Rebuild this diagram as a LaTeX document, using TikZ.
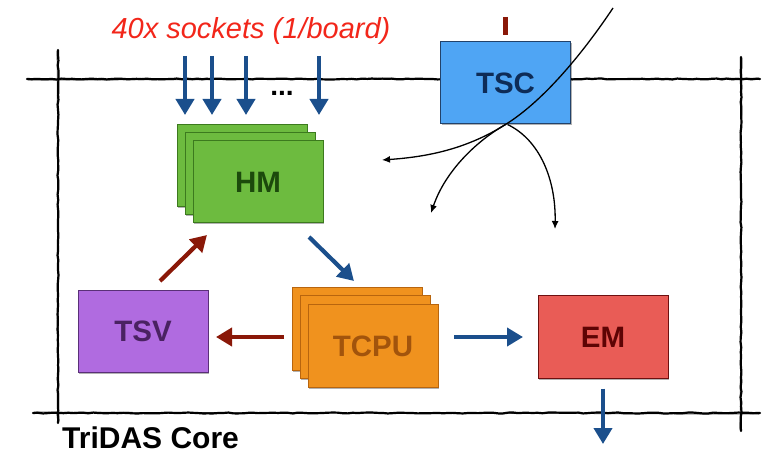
\documentclass[tikz,border=0pt]{standalone}
\usepackage{fontspec}
\setmainfont{Liberation Sans}
\usetikzlibrary{arrows.meta,shadows,decorations.pathmorphing}

\definecolor{flowblue}{HTML}{1B4F8C}
\definecolor{flowred}{HTML}{8A1808}
\definecolor{hmfill}{HTML}{6DBB3F}
\definecolor{hmdraw}{HTML}{3C7A1E}
\definecolor{hmtext}{HTML}{1C4A0C}
\definecolor{tscfill}{HTML}{4FA5F4}
\definecolor{tscdraw}{HTML}{22426A}
\definecolor{tsctext}{HTML}{0E2C57}
\definecolor{tsvfill}{HTML}{B06BE0}
\definecolor{tsvdraw}{HTML}{5A3078}
\definecolor{tsvtext}{HTML}{4A2262}
\definecolor{cpufill}{HTML}{F0921E}
\definecolor{cpudraw}{HTML}{B8650E}
\definecolor{cputext}{HTML}{A2540C}
\definecolor{emfill}{HTML}{E95C56}
\definecolor{emdraw}{HTML}{6E1010}
\definecolor{emtext}{HTML}{5E0404}
\definecolor{labelred}{HTML}{F2261A}

\begin{document}
\begin{tikzpicture}[x=1pt,y=-1pt,
  box/.style={rectangle, minimum width=130pt, minimum height=82pt, inner sep=0pt,
    line width=1pt, font=\fontsize{29.5}{32}\selectfont\bfseries,
    drop shadow={shadow xshift=1.2pt, shadow yshift=-1.5pt, opacity=.3, fill=black}},
  sketch/.style={line width=2.2pt, line cap=round,
    decorate, decoration={random steps, segment length=5pt, amplitude=.5pt}},
  fat/.style={line width=4.2pt, -{Triangle[width=18pt,length=16pt]}},
  thin/.style={line width=1.3pt, -{Latex[length=8pt,width=7pt]}},
]
\useasboundingbox (0,0) rectangle (763,454);

% frame of the core, hand-drawn look
\draw[sketch] (27,79) -- (760,79);
\draw[sketch] (33,413) -- (760,413);
\draw[sketch] (58,50) -- (58,423);
\draw[sketch] (741,57) -- (741,431);
\draw[line width=.6pt, opacity=.7] (28,80.2) -- (759,78.2);
\draw[line width=.6pt, opacity=.7] (34,412) -- (759,414.2);
\draw[line width=.6pt, opacity=.7] (57,51) -- (59,422);
\draw[line width=.6pt, opacity=.7] (742,58) -- (740,430);

% HM stack
\node[box, fill=hmfill, draw=hmdraw] (hm3) at (242,165.5) {};
\node[box, fill=hmfill, draw=hmdraw] (hm2) at (250,173.5) {};
\node[box, fill=hmfill, draw=hmdraw, text=hmtext] (hm) at (258,182) {HM};

% TCPU stack
\node[box, fill=cpufill, draw=cpudraw] (cpu3) at (357,329) {};
\node[box, fill=cpufill, draw=cpudraw] (cpu2) at (365,337) {};
\node[box, fill=cpufill, draw=cpudraw, text=cputext] (cpu) at (373,346) {TCPU};

% single units
\node[box, fill=tsvfill, draw=tsvdraw, text=tsvtext] (tsv) at (143,331.5) {TSV};
\node[box, fill=emfill, draw=emdraw, text=emtext] (em) at (603,337) {EM};
\node[box, fill=tscfill, draw=tscdraw, text=tsctext] (tsc) at (505.5,83) {TSC};

% label and socket inputs
\node[text=labelred, font=\fontsize{29}{32}\selectfont\itshape] (lbl) at (251,31) {40x sockets (1/board)};
\foreach \x/\n in {185/a,212/b,246/c,319/d}{
  \coordinate (s\n) at (\x,56);
  \coordinate (t\n) at (\x,115);
  \draw[fat, flowblue] (s\n) -- (t\n);
}
\node[font=\fontsize{28}{30}\selectfont\bfseries] (dots) at (282,93) {...};

% stub above TSC
\coordinate (tickA) at (505.5,17);
\coordinate (tickB) at (505.5,35);
\draw[flowred, line width=5pt] (tickA) -- (tickB);

% data flow
\coordinate (tsvout) at (160,281);
\coordinate (hmin) at (207,235);
\draw[fat, flowred] (tsvout) -- (hmin);
\coordinate (hmout) at (309,237);
\coordinate (cpuin) at (354,281);
\draw[fat, flowblue] (hmout) -- (cpuin);
\coordinate (cpuL) at (284,337);
\coordinate (tsvR) at (216,337);
\draw[fat, flowred] (cpuL) -- (tsvR);
\coordinate (cpuR) at (454,337);
\coordinate (emL) at (523,337);
\draw[fat, flowblue] (cpuR) -- (emL);
\coordinate (emB) at (603,444);
\draw[fat, flowblue] (em.south) ++(0,10) coordinate (emS) -- (emB);

% clock distribution lines from TSC
\coordinate (clk) at (613,8);
\coordinate (c1) at (382,160);
\coordinate (c2) at (431,213);
\coordinate (c3) at (555,229);
\draw[thin] (clk) .. controls (585,50) and (545,100) .. (tsc.south)
  .. controls (465,150) and (425,157) .. (c1);
\draw[thin] (tsc.south) .. controls (475,142) and (445,172) .. (c2);
\draw[thin] ([xshift=2pt]tsc.south) .. controls (540,140) and (556,180) .. (c3);

% caption
\node[font=\fontsize{30}{32}\selectfont\bfseries, anchor=base west, inner sep=0pt] (core) at (62,448) {TriDAS Core};
\end{tikzpicture}
\end{document}
